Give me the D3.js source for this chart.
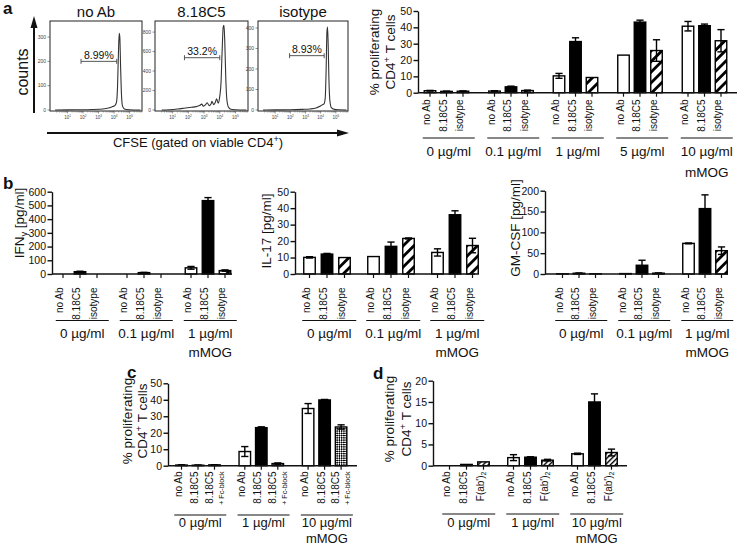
<!DOCTYPE html>
<html><head><meta charset="utf-8">
<script src="https://cdn.jsdelivr.net/npm/d3@7"></script>
<style>
body{margin:0;background:#fff}
svg{display:block;font-family:"Liberation Sans",Arial,Helvetica,sans-serif}
</style></head><body>
<svg id="c" width="740" height="546"></svg>
<script>
// ================= DATA =================
// Panel a – CFSE histograms: [log10 CFSE, counts]
const flowTitles = ["no Ab", "8.18C5", "isotype"];
const flowPercents = ["8.99%", "33.2%", "8.93%"];
const flowYTicks = [[0, 100, 200, 300], [0, 200, 400, 600, 800], [0, 100, 200, 300, 400]];
const flowYMax = [366, 914, 434];
const flowXTicks = [1, 2, 3, 4, 5];
const gateStart = [1.87, 1.75, 1.95];
const gateEnd = [4.17, 4.0, 4.23];
const gateLevel = [200, 537, 265];
const histNoAb = [[0.2,0],[1.0,0.5],[2.0,1],[2.6,2],[3.0,3],[3.4,5],[3.7,9],[3.9,14],[4.05,18],[4.15,30],[4.22,90],[4.28,230],[4.33,315],[4.37,300],[4.42,180],[4.48,60],[4.55,15],[4.7,3],[5.0,1],[5.7,0]];
const hist818 = [[0.3,0],[0.8,3],[1.3,10],[1.8,20],[2.2,28],[2.5,35],[2.7,45],[2.85,60],[2.95,40],[3.1,55],[3.2,75],[3.32,45],[3.45,65],[3.5,90],[3.62,55],[3.72,80],[3.8,115],[3.9,70],[4.0,140],[4.08,280],[4.15,600],[4.22,850],[4.27,870],[4.32,700],[4.38,350],[4.45,110],[4.55,30],[4.7,8],[5.0,3],[5.7,0]];
const histIso = [[0.2,0],[1.0,0.5],[2.0,1],[2.8,3],[3.3,5],[3.7,10],[3.95,18],[4.1,25],[4.22,30],[4.3,60],[4.36,200],[4.41,380],[4.45,405],[4.49,330],[4.54,160],[4.6,50],[4.7,12],[4.9,3],[5.2,1],[5.7,0]];

// Panel a – proliferation bar chart
const treatA = ["no Ab", "8.18C5", "isotype"];
const concA = ["0 µg/ml", "0.1 µg/ml", "1 µg/ml", "5 µg/ml", "10 µg/ml"];
const prolifA = [[1.2,0.8,0.9],[1.0,3.6,1.3],[10.3,31.3,9.3],[23.0,43.2,25.8],[40.7,41.0,31.8]];
const prolifAErr = [[0.2,0.2,0.2],[0.2,0.4,0.3],[1.5,2.3,0],[0,1.2,6.6],[2.9,1.0,6.8]];
const ticksA = [0,10,20,30,40,50];

// Panel b – cytokines
const concB = ["0 µg/ml", "0.1 µg/ml", "1 µg/ml"];
const ifng = [[0,17,0],[0,10,0],[45,535,25]];
const ifngErr = [[0,3,0],[0,2,0],[10,22,5]];
const ticksIfng = [0,100,200,300,400,500,600];
const il17 = [[10.1,12.1,10.0],[10.6,16.8,21.6],[13.1,36.0,17.3]];
const il17Err = [[0.4,0.4,0],[0,2.6,0.3],[2.2,2.4,4.4]];
const ticksIl17 = [0,10,20,30,40,50];
const gmcsf = [[0.5,1.8,0.5],[1.0,21,2.0],[73.5,157,56]];
const gmcsfErr = [[0,0.5,0],[0,12,0.3],[1,33,9]];
const ticksGm = [0,50,100,150,200];

// Panel c / d
const concCD = ["0 µg/ml", "1 µg/ml", "10 µg/ml"];
const treatC = ["no Ab", "8.18C5", "8.18C5"];
const treatCSub = ["", "", "+ Fc-block"];
const prolifC = [[0.4,0.3,0.5],[8.6,23.1,1.3],[34.7,39.9,23.5]];
const prolifCErr = [[0.1,0.1,0.1],[3.0,0.5,0.4],[3.0,0.3,1.3]];
const ticksC = [0,10,20,30,40,50];
const treatD = ["no Ab", "8.18C5", "F(ab')_{2}"];
const prolifD = [[0,0.3,0.9],[1.9,2.0,1.3],[2.8,15.0,3.1]];
const prolifDErr = [[0,0,0],[0.7,0.1,0.2],[0.15,1.9,0.8]];
const ticksD = [0,5,10,15,20];

// ================= DRAW =================
const svg = d3.select("#c");
const INK = "#111";
const defs = svg.append("defs");
function pat(id, size, rot, draw) {
  const p = defs.append("pattern").attr("id", id).attr("patternUnits", "userSpaceOnUse")
    .attr("width", size).attr("height", size).attr("patternTransform", `rotate(${rot})`);
  p.append("rect").attr("width", size).attr("height", size).attr("fill", "#fff");
  draw(p, size);
}
pat("hatch", 7.5, 45, (p, s) => p.append("rect").attr("width", 2.8).attr("height", s).attr("fill", "#000"));
pat("fine", 3.6, 45, (p, s) => p.append("rect").attr("width", 1.4).attr("height", s).attr("fill", "#000"));
pat("check", 3.2, 45, (p) => {
  p.append("rect").attr("width", 1.6).attr("height", 1.6).attr("fill", "#000");
  p.append("rect").attr("x", 1.6).attr("y", 1.6).attr("width", 1.6).attr("height", 1.6).attr("fill", "#000");
});

function rich(t, str, fs) {
  const parts = str.split(/([\^_]\{[^}]*\})/).filter(s => s.length);
  let cur = 0;
  parts.forEach(p => {
    let target = 0, txt = p, small = false;
    if (p[0] === "^" && p[1] === "{") { target = -0.38 * fs; txt = p.slice(2, -1); small = true; }
    else if (p[0] === "_" && p[1] === "{") { target = 0.25 * fs; txt = p.slice(2, -1); small = true; }
    const ts = t.append("tspan").attr("dy", target - cur).text(txt);
    if (small) ts.attr("font-size", fs * 0.7);
    cur = target;
  });
}

// panel letters
[["a", 3, 14], ["b", 3, 189], ["c", 127, 378], ["d", 373, 379]].forEach(([l, x, y]) =>
  svg.append("text").attr("x", x).attr("y", y).attr("font-size", 17).attr("font-weight", "bold").attr("fill", INK).text(l));

// ---------- Flow histograms ----------
const FY0 = 21, FY1 = 111;
const flowBoxes = [{x0: 50, x1: 142}, {x0: 155, x1: 248}, {x0: 258, x1: 348}];
const flowData = [histNoAb, hist818, histIso];
flowBoxes.forEach((b, i) => {
  const g = svg.append("g");
  const x = d3.scaleLinear().domain([0, 5.8]).range([b.x0 + 2, b.x1]);
  const y = d3.scaleLinear().domain([0, flowYMax[i]]).range([FY1 - 1, FY0]);
  g.append("rect").attr("x", b.x0).attr("y", FY0).attr("width", b.x1 - b.x0).attr("height", FY1 - FY0)
    .attr("fill", "none").attr("stroke", "#222").attr("stroke-width", 1);
  g.append("path").datum(flowData[i])
    .attr("d", d3.line().x(d => x(d[0])).y(d => y(d[1])).curve(d3.curveMonotoneX))
    .attr("fill", "none").attr("stroke", "#333").attr("stroke-width", 1.1);
  flowYTicks[i].forEach(t => {
    g.append("line").attr("x1", b.x0 - 2.5).attr("x2", b.x0).attr("y1", y(t)).attr("y2", y(t)).attr("stroke", "#444").attr("stroke-width", 0.6);
    g.append("text").attr("x", b.x0 - 4).attr("y", y(t)).attr("dy", "0.35em").attr("text-anchor", "end")
      .attr("font-size", 5).attr("fill", "#444").text(t);
  });
  for (let d = 0; d < 6; d++) for (let k = 2; k <= 9; k++) {
    const v = d + Math.log10(k);
    if (v < 5.8) g.append("line").attr("x1", x(v)).attr("x2", x(v)).attr("y1", FY1).attr("y2", FY1 + 1.5).attr("stroke", "#555").attr("stroke-width", 0.5);
  }
  flowXTicks.forEach(t => {
    g.append("line").attr("x1", x(t)).attr("x2", x(t)).attr("y1", FY1).attr("y2", FY1 + 2.5).attr("stroke", "#444").attr("stroke-width", 0.6);
    const tx = g.append("text").attr("x", x(t)).attr("y", FY1 + 8).attr("text-anchor", "middle").attr("font-size", 4.5).attr("fill", "#444");
    rich(tx, "10^{" + t + "}", 4.5);
  });
  g.append("text").attr("x", (b.x0 + b.x1) / 2).attr("y", 16.5).attr("text-anchor", "middle").attr("font-size", 15).attr("fill", INK).text(flowTitles[i]);
  const gy = y(gateLevel[i]), gx0 = x(gateStart[i]), gx1 = x(gateEnd[i]);
  g.append("line").attr("x1", gx0).attr("x2", gx1).attr("y1", gy).attr("y2", gy).attr("stroke", "#444").attr("stroke-width", 0.9);
  [gx0, gx1].forEach(v => g.append("line").attr("x1", v).attr("x2", v).attr("y1", gy - 2.5).attr("y2", gy + 2.5).attr("stroke", "#444").attr("stroke-width", 0.9));
  g.append("text").attr("x", (gx0 + gx1) / 2).attr("y", gy - 2.5).attr("text-anchor", "middle").attr("font-size", 10.5).attr("fill", INK).text(flowPercents[i]);
});
// counts arrow
svg.append("line").attr("x1", 34).attr("x2", 34).attr("y1", 113).attr("y2", 26).attr("stroke", INK).attr("stroke-width", 2);
svg.append("path").attr("d", "M34,16 L30.5,28 L37.5,28 Z").attr("fill", INK);
svg.append("text").attr("transform", "translate(28,72) rotate(-90)").attr("text-anchor", "middle").attr("font-size", 16).attr("fill", INK).text("counts");
// CFSE arrow
svg.append("line").attr("x1", 47).attr("x2", 338).attr("y1", 133).attr("y2", 133).attr("stroke", INK).attr("stroke-width", 2);
svg.append("path").attr("d", "M349,133 L337,129.5 L337,136.5 Z").attr("fill", INK);
const cf = svg.append("text").attr("x", 198).attr("y", 147).attr("text-anchor", "middle").attr("font-size", 13).attr("fill", INK);
rich(cf, "CFSE (gated on viable CD4^{+})", 13);

// ---------- Bar charts ----------
function barChart(c) {
  const g = svg.append("g");
  const gfs = c.gfs || 13.5;
  const y = d3.scaleLinear().domain([0, c.ticks[c.ticks.length - 1]]).range([c.y0, c.yTop]);
  const outer = d3.scaleBand().domain(c.groups).range([c.c0 - c.step / 2, c.c0 - c.step / 2 + c.step * c.groups.length]);
  const p = 1 - c.bw / c.inner;
  const idx = c.treats.map((_, i) => i);
  const inner = d3.scaleBand().domain(idx).range([-1.5 * c.inner, 1.5 * c.inner]).paddingInner(p).paddingOuter(p / 2);
  const bw = inner.bandwidth();
  const cx = (gi, ti) => outer(c.groups[gi]) + c.step / 2 + inner(ti) + bw / 2;
  const rows = [];
  c.vals.forEach((row, gi) => row.forEach((v, ti) => rows.push({gi, ti, v, e: c.errs[gi][ti]})));
  const drawErr = (sel) => sel.each(function (d) {
    if (!d.e) return;
    const s = d3.select(this), x = cx(d.gi, d.ti), cw = 3.6;
    const lo = d.v - d.e < 0 ? 0 : d.v - d.e;
    s.append("line").attr("x1", x).attr("x2", x).attr("y1", y(lo)).attr("y2", y(d.v + d.e));
    s.append("line").attr("x1", x - cw).attr("x2", x + cw).attr("y1", y(d.v + d.e)).attr("y2", y(d.v + d.e));
    s.append("line").attr("x1", x - cw).attr("x2", x + cw).attr("y1", y(lo)).attr("y2", y(lo));
  });
  g.append("g").selectAll("rect").data(rows).join("rect")
    .attr("x", d => cx(d.gi, d.ti) - bw / 2).attr("width", bw)
    .attr("y", d => y(d.v)).attr("height", d => c.y0 - y(d.v))
    .attr("fill", d => c.fills[d.ti]).attr("stroke", "#000").attr("stroke-width", 1.4);
  g.append("g").attr("stroke", "#000").attr("stroke-width", 1.4).selectAll("g").data(rows).join("g").call(drawErr);
  const ax = g.append("g").attr("transform", `translate(${c.ax},0)`)
    .call(d3.axisLeft(y).tickValues(c.ticks).tickSize(4.5).tickSizeOuter(0).tickPadding(1.5));
  ax.selectAll("path,line").attr("stroke", INK).attr("stroke-width", 1.4);
  ax.selectAll("text").attr("font-size", 10.5).attr("fill", INK).attr("font-family", null);
  g.append("line").attr("x1", c.ax).attr("x2", c.axEnd).attr("y1", c.y0).attr("y2", c.y0).attr("stroke", INK).attr("stroke-width", 1.4);
  g.append("g").selectAll("line").data(rows).join("line")
    .attr("x1", d => cx(d.gi, d.ti)).attr("x2", d => cx(d.gi, d.ti)).attr("y1", c.y0).attr("y2", c.y0 + 4)
    .attr("stroke", INK).attr("stroke-width", 1.2);
  rows.forEach(d => {
    const hasSub = c.sub && c.sub[d.ti];
    const x = cx(d.gi, d.ti) + (hasSub ? -2 : 0);
    const t = g.append("text").attr("transform", `translate(${x},${c.labelTop}) rotate(-90)`)
      .attr("text-anchor", "end").attr("dy", "0.35em").attr("font-size", 10).attr("fill", INK);
    rich(t, c.treats[d.ti], 10);
    if (hasSub) {
      g.append("text").attr("transform", `translate(${x + 8.5},${c.labelTop}) rotate(-90)`)
        .attr("text-anchor", "end").attr("dy", "0.35em").attr("font-size", 7.2).attr("fill", INK).text(c.sub[d.ti]);
    }
  });
  c.groups.forEach((gr, gi) => {
    const l = cx(gi, 0) - bw / 2 - 1.5, r = cx(gi, c.treats.length - 1) + bw / 2 + 6;
    g.append("line").attr("x1", l).attr("x2", r).attr("y1", c.lineY).attr("y2", c.lineY).attr("stroke", INK).attr("stroke-width", 1.2);
    g.append("text").attr("x", (l + r) / 2).attr("y", c.groupBase).attr("text-anchor", "middle").attr("font-size", gfs).attr("fill", INK).text(gr);
    if (gi === c.groups.length - 1)
      g.append("text").attr("x", (l + r) / 2).attr("y", c.mmogBase).attr("text-anchor", "middle").attr("font-size", gfs).attr("fill", INK).text("mMOG");
  });
  c.ytitle.forEach((s, k) => {
    const t = g.append("text").attr("transform", `translate(${c.ytX[k]},${c.ytY}) rotate(-90)`)
      .attr("text-anchor", "middle").attr("font-size", 13.5).attr("fill", INK);
    rich(t, s, 13.5);
  });
}

const fillsA = ["#fff", "#000", "url(#hatch)"];
const prolTitle = ["% proliferating", "CD4^{+} T cells"];

barChart({ax: 418, axEnd: 737, y0: 92.7, yTop: 11, ticks: ticksA, groups: concA, treats: treatA,
  vals: prolifA, errs: prolifAErr, fills: fillsA, c0: 446.5, step: 64.5, inner: 16.5, bw: 11.5,
  labelTop: 99.5, lineY: 138, groupBase: 156, mmogBase: 177, ytitle: prolTitle, ytX: [379, 395], ytY: 52});

barChart({ax: 52, axEnd: 232, y0: 274, yTop: 191.7, ticks: ticksIfng, groups: concB, treats: treatA,
  vals: ifng, errs: ifngErr, fills: fillsA, c0: 80, step: 64, inner: 17, bw: 11.5,
  labelTop: 287.5, lineY: 320.5, groupBase: 338, mmogBase: 357, ytitle: ["IFN_{γ} [pg/ml]"], ytX: [24], ytY: 223});

barChart({ax: 295, axEnd: 475, y0: 274, yTop: 191.7, ticks: ticksIl17, groups: concB, treats: treatA,
  vals: il17, errs: il17Err, fills: fillsA, c0: 327, step: 64, inner: 17.5, bw: 11.5,
  labelTop: 287.5, lineY: 320.5, groupBase: 338, mmogBase: 357, ytitle: ["IL-17 [pg/ml]"], ytX: [271], ytY: 231});

barChart({ax: 545, axEnd: 728, y0: 274, yTop: 190.7, ticks: ticksGm, groups: concB, treats: treatA,
  vals: gmcsf, errs: gmcsfErr, fills: fillsA, c0: 579, step: 63, inner: 16.5, bw: 11.5,
  labelTop: 287.5, lineY: 320.5, groupBase: 338, mmogBase: 357, ytitle: ["GM-CSF [pg/ml]"], ytX: [520], ytY: 228});

barChart({ax: 168, axEnd: 357, y0: 465.7, yTop: 383.3, ticks: ticksC, groups: concCD, treats: treatC, sub: treatCSub,
  vals: prolifC, errs: prolifCErr, fills: ["#fff", "#000", "url(#check)"], c0: 198, step: 63.3, inner: 16.5, bw: 11.5,
  labelTop: 471.5, lineY: 515, groupBase: 527, mmogBase: 543, gfs: 13, ytitle: prolTitle, ytX: [132, 147], ytY: 421});

barChart({ax: 433, axEnd: 627, y0: 465.7, yTop: 380.7, ticks: ticksD, groups: concCD, treats: treatD,
  vals: prolifD, errs: prolifDErr, fills: ["#fff", "#000", "url(#fine)"], c0: 466.5, step: 64, inner: 17, bw: 11.5,
  labelTop: 471.5, lineY: 514, groupBase: 527, mmogBase: 543, gfs: 13, ytitle: prolTitle, ytX: [394, 411], ytY: 419});
</script>
</body></html>
